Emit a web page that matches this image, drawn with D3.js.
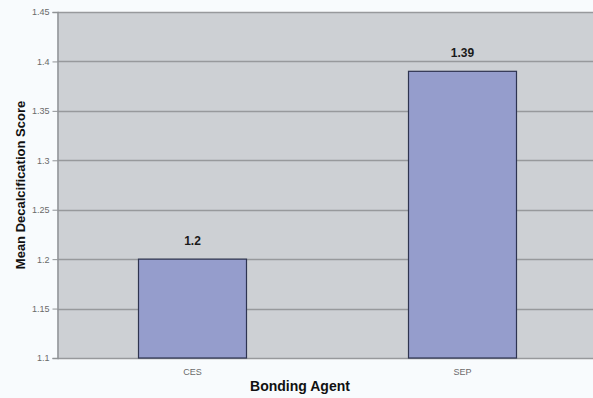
<!DOCTYPE html>
<html>
<head>
<meta charset="utf-8">
<script src="https://cdn.jsdelivr.net/npm/d3@7"></script>
<style>
  body { margin:0; background:#f8fbfd; }
  svg { display:block; font-family:"Liberation Sans", Arial, sans-serif; }
</style>
</head>
<body>
<div id="chart"></div>
<script>
// bar chart - mean decalcification score by bonding agent

var agents = ["CES", "SEP"];
var scores = [1.2, 1.39];
var yTicks = [1.1, 1.15, 1.2, 1.25, 1.3, 1.35, 1.4, 1.45];

var width = 593, height = 398;
var plot = {left: 57.5, right: 597.5, top: 12, bottom: 358};

var svg = d3.select("#chart").append("svg")
    .attr("width", width)
    .attr("height", height);

var x = d3.scaleBand()
    .domain(agents)
    .range([plot.left, plot.right])
    .paddingInner(0.6)
    .paddingOuter(0.3);

var y = d3.scaleLinear()
    .domain([1.1, 1.45])
    .range([plot.bottom, plot.top]);

// plot background
svg.append("rect")
    .attr("x", plot.left)
    .attr("y", plot.top)
    .attr("width", plot.right - plot.left)
    .attr("height", plot.bottom - plot.top)
    .attr("fill", "#cdd0d4");

// gridlines
svg.append("g")
  .selectAll("line")
  .data(yTicks)
  .enter().append("line")
    .attr("x1", plot.left)
    .attr("x2", plot.right)
    .attr("y1", function(d){ return Math.round(y(d)) + 0.5; })
    .attr("y2", function(d){ return Math.round(y(d)) + 0.5; })
    .attr("stroke", "#97999c")
    .attr("stroke-width", 1.5);

// y axis
var yAxis = svg.append("g")
    .attr("transform", "translate(" + plot.left + ",0)")
    .call(d3.axisLeft(y).tickValues(yTicks).tickSize(5).tickPadding(3)
      .tickFormat(function(d){ return d3.format("")(+d.toFixed(2)); }));
yAxis.select(".domain").attr("stroke", "#909396").attr("stroke-width", 1.5);
yAxis.selectAll(".tick line").attr("stroke", "#909396");
yAxis.selectAll("text").attr("fill", "#6a6a6a").style("font-size", "9px");

// x axis labels
svg.append("g")
  .selectAll("text")
  .data(agents)
  .enter().append("text")
    .attr("x", function(d){ return x(d) + x.bandwidth() / 2; })
    .attr("y", 375)
    .attr("text-anchor", "middle")
    .attr("fill", "#6a6a6a")
    .style("font-size", "9px")
    .text(function(d){ return d; });

// bars
svg.append("g")
  .selectAll("rect")
  .data(scores)
  .enter().append("rect")
    .attr("x", function(d, i){ return x(agents[i]); })
    .attr("y", function(d){ return y(d); })
    .attr("width", x.bandwidth())
    .attr("height", function(d){ return y(1.1) - y(d); })
    .attr("fill", "#959dcc")
    .attr("stroke", "#2e3450")
    .attr("stroke-width", 1.2);

// value labels
svg.append("g")
  .selectAll("text")
  .data(scores)
  .enter().append("text")
    .attr("x", function(d, i){ return x(agents[i]) + x.bandwidth() / 2; })
    .attr("y", function(d){ return y(d) - 14; })
    .attr("text-anchor", "middle")
    .attr("fill", "#1a1a1a")
    .style("font-size", "12px")
    .style("font-weight", "bold")
    .text(function(d){ return d; });

// axis titles
svg.append("text")
    .attr("x", 300)
    .attr("y", 391)
    .attr("text-anchor", "middle")
    .style("font-size", "14px")
    .style("font-weight", "bold")
    .attr("fill", "#111")
    .text("Bonding Agent");

svg.append("text")
    .attr("transform", "translate(25,185)rotate(-90)")
    .attr("text-anchor", "middle")
    .style("font-size", "13px")
    .style("font-weight", "bold")
    .attr("fill", "#111")
    .text("Mean Decalcification Score");
</script>
</body>
</html>
